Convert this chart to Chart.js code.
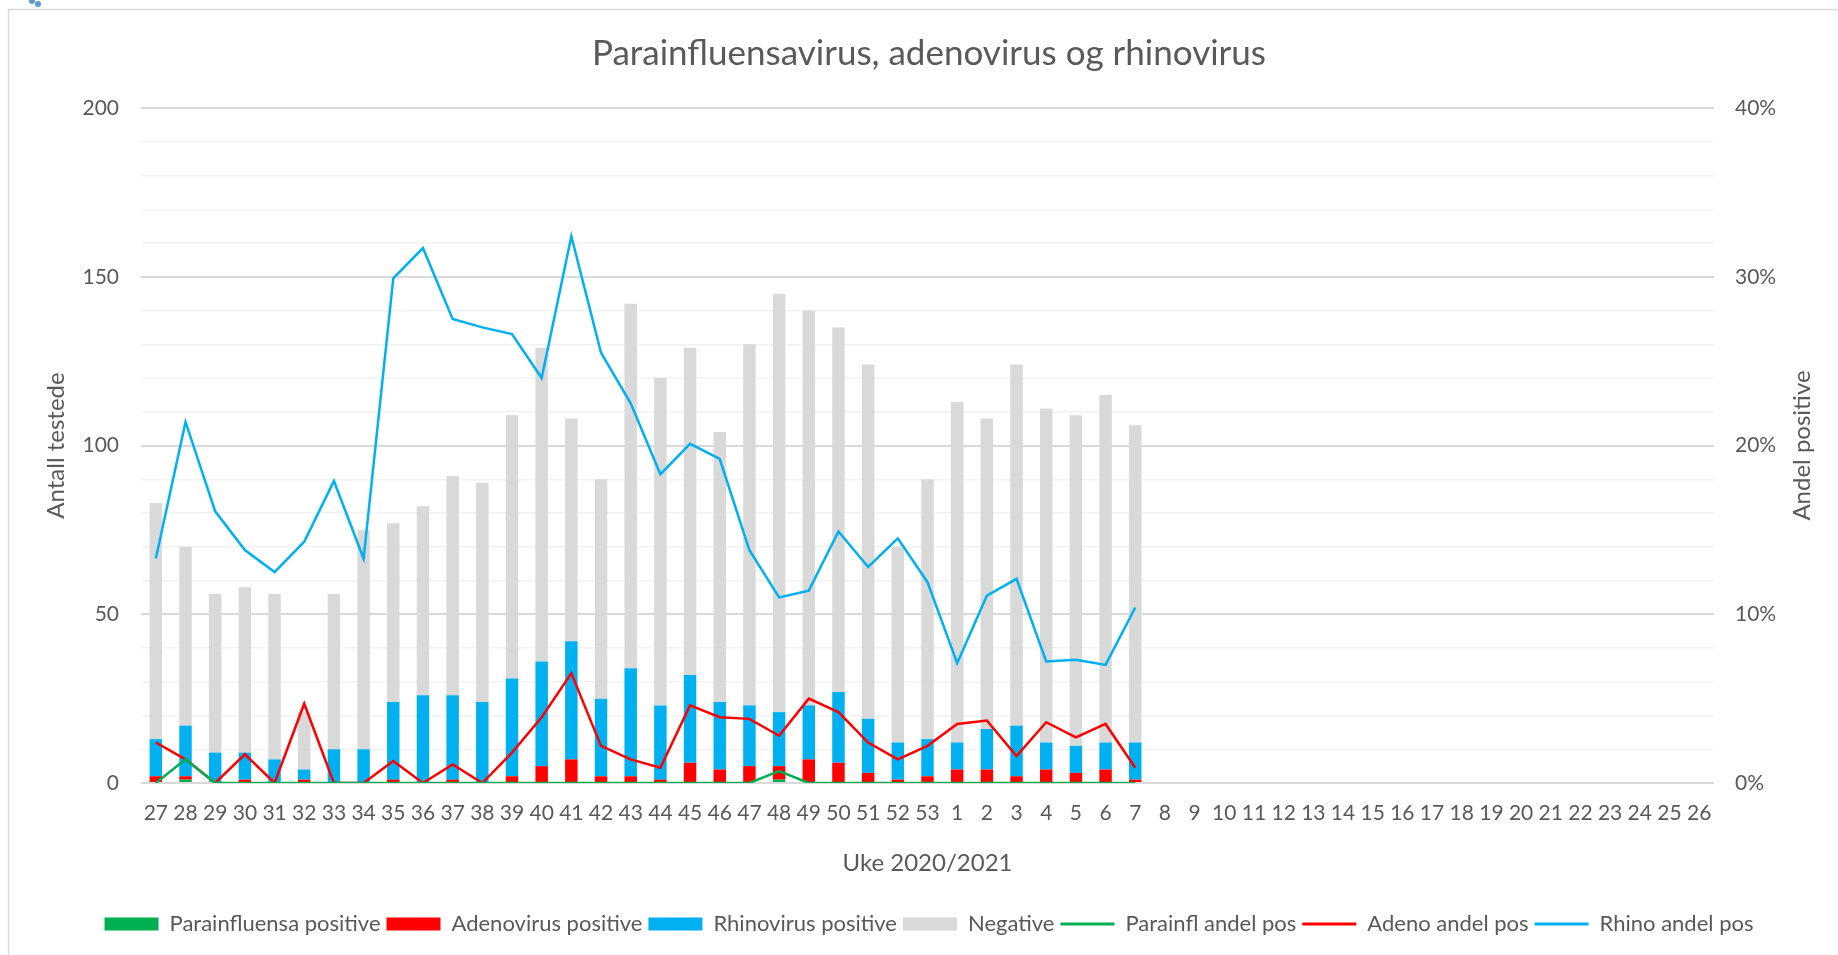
<!DOCTYPE html>
<html>
<head>
<meta charset="utf-8">
<script src="https://cdn.jsdelivr.net/npm/chart.js@4.4.1/dist/chart.umd.min.js"></script>
<style>
  html, body { margin: 0; padding: 0; background: #fff; }
  #wrap { width: 1838px; height: 955px; position: relative; }
</style>
</head>
<body>
<div id="wrap"><canvas id="myChart" width="1838" height="955"></canvas></div>
<script>
// Uker (x-akse)
let weeks = ['27','28','29','30','31','32','33','34','35','36','37','38','39','40','41','42','43','44','45','46','47','48','49','50','51','52','53',
             '1','2','3','4','5','6','7','8','9','10','11','12','13','14','15','16','17','18','19','20','21','22','23','24','25','26'];

// Antall testede totalt per uke (uke 27 .. uke 7)
let totalTested = [83,70,56,58,56,21,56,75,77,82,91,89,109,129,108,90,142,120,129,104,130,145,140,135,124,70,90,113,108,124,111,109,115,106];
let parainflPos = [0,1,0,0,0,0,0,0,0,0,0,0,0,0,0,0,0,0,0,0,0,1,0,0,0,0,0,0,0,0,0,0,0,0];
let adenoPos    = [2,1,0,1,0,1,0,0,1,0,1,0,2,5,7,2,2,1,6,4,5,4,7,6,3,1,2,4,4,2,4,3,4,1];
let rhinoPos    = [11,15,9,8,7,3,10,10,23,26,25,24,29,31,35,23,32,22,26,20,18,16,16,21,16,11,11,8,12,15,8,8,8,11];

// Andel positive i prosent (lest av figuren)
let parainflPct = [0,1.4,0,0,0,0,0,0,0,0,0,0,0,0,0,0,0,0,0,0,0,0.7,0,0,0,0,0,0,0,0,0,0,0,0];
let adenoPct    = [2.4,1.4,0,1.7,0,4.7,0,0,1.3,0,1.1,0,1.8,3.9,6.5,2.2,1.4,0.9,4.6,3.9,3.8,2.8,5.0,4.2,2.4,1.4,2.2,3.5,3.7,1.6,3.6,2.7,3.5,0.9];
let rhinoPct    = [13.3,21.4,16.1,13.8,12.5,14.3,17.9,13.3,29.9,31.7,27.5,27.0,26.6,24.0,32.4,25.5,22.5,18.3,20.1,19.2,13.8,11.0,11.4,14.9,12.8,14.5,11.9,7.1,11.1,12.1,7.2,7.3,7.0,10.4];

let leftTicks = [0, 50, 100, 150, 200];

let negative = totalTested.map((t, i) => t - parainflPos[i] - adenoPos[i] - rhinoPos[i]);

let textColor = '#595959';
let fontFamily = 'Lato, "Open Sans", sans-serif';

// ramme rundt diagrammet + høyre aksetittel (lest nedenfra og opp)
let framePlugin = {
  id: 'frame',
  beforeDraw(chart) {
    let ctx = chart.ctx;
    ctx.save();
    ctx.fillStyle = '#ffffff';
    ctx.fillRect(0, 0, chart.width, chart.height);
    ctx.strokeStyle = '#d9d9d9';
    ctx.lineWidth = 1.5;
    ctx.strokeRect(8.5, 9.5, 2000, 2000);
    ctx.fillStyle = '#5b9bd5';
    ctx.beginPath(); ctx.arc(32, 1, 3, 0, Math.PI * 2); ctx.fill();
    ctx.beginPath(); ctx.arc(38, 4, 3, 0, Math.PI * 2); ctx.fill();
    ctx.restore();
  },
  afterDraw(chart) {
    let ctx = chart.ctx;
    let area = chart.chartArea;
    ctx.save();
    ctx.translate(1802, (area.top + area.bottom) / 2);
    ctx.rotate(-Math.PI / 2);
    ctx.fillStyle = textColor;
    ctx.font = '24px ' + fontFamily;
    ctx.textAlign = 'center';
    ctx.textBaseline = 'middle';
    ctx.fillText('Andel positive', 0, 0);
    ctx.restore();
  }
};

let barSet = (label, data, color) => ({
  type: 'bar', label: label, data: data, backgroundColor: color, borderWidth: 0,
  yAxisID: 'y', order: 1, pointStyle: 'rect',
  barPercentage: 0.42, categoryPercentage: 1
});
let lineSet = (label, data, color) => ({
  type: 'line', label: label, data: data, borderColor: color, backgroundColor: color,
  borderWidth: 2.5, pointRadius: 0, pointHoverRadius: 0, pointStyle: 'line', pointBorderWidth: 3,
  yAxisID: 'y1', order: 0, tension: 0, fill: false
});

let data = {
  labels: weeks,
  datasets: [
    barSet('Parainfluensa positive', parainflPos, '#00b050'),
    barSet('Adenovirus positive', adenoPos, '#ff0000'),
    barSet('Rhinovirus positive', rhinoPos, '#00b0f0'),
    barSet('Negative', negative, '#d9d9d9'),
    lineSet('Parainfl andel pos', parainflPct, '#00b050'),
    lineSet('Adeno andel pos', adenoPct, '#ff0000'),
    lineSet('Rhino andel pos', rhinoPct, '#00b0f0')
  ]
};

let config = {
  type: 'bar',
  data: data,
  plugins: [framePlugin],
  options: {
    responsive: false,
    animation: false,
    layout: { padding: { left: 38, right: 18, top: 17, bottom: 10 } },
    scales: {
      x: {
        stacked: true,
        offset: true,
        grid: { display: false, drawTicks: false },
        border: { display: false },
        ticks: { color: textColor, font: { family: fontFamily, size: 21 }, padding: 18, maxRotation: 0, autoSkip: false },
        title: { display: true, text: 'Uke 2020/2021', color: textColor, font: { family: fontFamily, size: 24 }, padding: { top: 5, bottom: 29 } }
      },
      y: {
        stacked: true,
        position: 'left',
        min: 0, max: 200,
        afterFit: (scale) => { scale.width = 103; },
        ticks: {
          stepSize: 10,
          color: textColor, font: { family: fontFamily, size: 21 }, padding: 22,
          callback: (v) => leftTicks.includes(v) ? v : ''
        },
        grid: {
          drawTicks: false,
          color: (c) => leftTicks.includes(c.tick.value) ? '#d9d9d9' : '#f2f2f2',
          lineWidth: (c) => leftTicks.includes(c.tick.value) ? 2 : 1.5
        },
        border: { display: false },
        title: { display: true, text: 'Antall testede', color: textColor, font: { family: fontFamily, size: 24 }, padding: { top: 4, bottom: 4 } }
      },
      y1: {
        position: 'right',
        stacked: false,
        min: 0, max: 40,
        afterFit: (scale) => { scale.width = 106; },
        ticks: {
          stepSize: 10,
          color: textColor, font: { family: fontFamily, size: 21 }, padding: 21,
          callback: (v) => v + '%'
        },
        grid: { display: false, drawTicks: false },
        border: { display: false },
        title: { display: false }
      }
    },
    plugins: {
      title: {
        display: true,
        text: 'Parainfluensavirus, adenovirus og rhinovirus',
        color: textColor,
        font: { family: fontFamily, size: 35, weight: 'normal' },
        padding: { top: 16, bottom: 33 }
      },
      legend: {
        position: 'bottom',
        labels: {
          color: textColor,
          font: { family: fontFamily, size: 22 },
          usePointStyle: true,
          pointStyleWidth: 54,
          boxHeight: 13,
          padding: 6,
          sort: (a, b) => a.datasetIndex - b.datasetIndex
        }
      },
      tooltip: { enabled: false }
    }
  }
};

let chart = new Chart(document.getElementById('myChart').getContext('2d'), config);
</script>
</body>
</html>
